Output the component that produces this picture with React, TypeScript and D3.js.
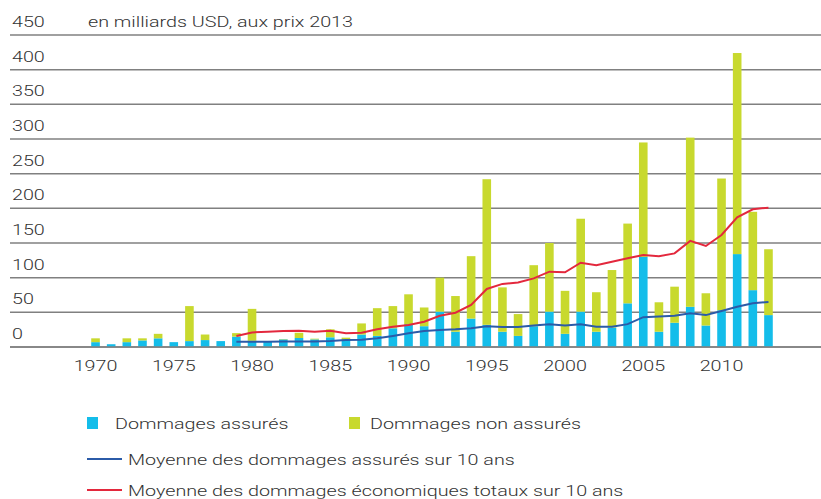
import * as d3 from 'd3';
import React from 'react';

// values, USD bn at 2013 prices
const years = d3.range(1970, 2014);
const insured = [7, 4, 7, 9.5, 12.5, 7, 8.5, 10, 8.5, 15, 9, 7.5, 11, 13, 11, 14, 11, 18, 16, 27, 33, 30, 51, 22, 41, 32, 22, 16, 30, 51, 19, 51, 22, 28, 63, 130, 22, 35, 58, 31, 53, 134, 82, 46];
const uninsured = [5.5, 0, 5.5, 3, 6.5, 0, 50.5, 8, 0, 5, 46, 0, 0.5, 7.5, 1, 11.5, 2.5, 16, 40, 32, 43, 27, 49, 51.5, 90, 210, 64, 31.5, 88, 99, 62, 134, 57, 83, 115, 165, 42.5, 52, 244, 46.5, 190, 290, 113, 95];
const avgYears = d3.range(1979, 2014);
const avgInsured = [7.6, 7.6, 7.7, 7.8, 8, 8, 8.5, 10, 10.5, 12.5, 16, 19.7, 23, 24.5, 25.5, 27, 30, 29, 29, 31, 32.7, 31, 32.7, 29.3, 29.3, 33, 43, 44, 45, 48.5, 46, 52, 58, 63, 65];
const avgTotal = [16, 21, 22, 23, 23.5, 22, 23.5, 19.7, 20.7, 25.5, 29.3, 31.7, 36.5, 45, 49.5, 60.6, 83.7, 91, 93, 99, 108.6, 107.7, 121.6, 118, 123, 128, 132.7, 131, 135, 153, 145.7, 161.5, 187, 198.6, 201];
const yTicks = [0, 50, 100, 150, 200, 250, 300, 350, 400, 450];
const xTicks = [1970, 1975, 1980, 1985, 1990, 1995, 2000, 2005, 2010];

const W = 821, H = 499;
const BLUE = '#14bdea', GREEN = '#c8d92e', LINE_BLUE = '#2b5ba8', LINE_RED = '#e3283d';
const TXT = '#333';
const SX = 1.29; // the source image is stretched horizontally

function T({x, y, anchor = 'start', children}: any) {
  return (
    <text transform={`translate(${x},${y}) scale(${SX},1)`} textAnchor={anchor}
      fontFamily="Roboto, 'Liberation Sans', sans-serif" fontWeight={300} fontSize={15.3} fill={TXT}>
      {children}
    </text>
  );
}

export default function App() {
  const x = d3.scaleBand<number>().domain(years).range([87.7, 776.3]).paddingInner(0.45).paddingOuter(0.225);
  const y = d3.scaleLinear().domain([0, 450]).range([347, 35]);
  const cx = (yr: number) => (x(yr) as number) + x.bandwidth() / 2;

  const line = d3.line<number>().x((_, i) => cx(avgYears[i])).y(d => y(d)).curve(d3.curveLinear);

  return (
    <svg width={W} height={H} style={{position: 'absolute', left: 0, top: 0, background: '#fff'}}>
      {yTicks.map(t => (
        <g key={t}>
          <line x1={10} x2={W} y1={y(t)} y2={y(t)} stroke="#808080" strokeWidth={1.5} />
          <T x={12} y={y(t) - 8}>{t}</T>
        </g>
      ))}
      <T x={88} y={y(450) - 8}>en milliards USD, aux prix 2013</T>

      {years.map((yr, i) => (
        <g key={yr}>
          <rect x={x(yr)} width={x.bandwidth()} y={y(insured[i])} height={y(0) - y(insured[i])} fill={BLUE} />
          {uninsured[i] > 0 && (
            <rect x={x(yr)} width={x.bandwidth()} y={y(insured[i] + uninsured[i])}
              height={y(insured[i]) - y(insured[i] + uninsured[i])} fill={GREEN} />
          )}
        </g>
      ))}
      <line x1={10} x2={W} y1={y(0)} y2={y(0)} stroke="#808080" strokeWidth={1.5} />

      <path d={line(avgInsured) || ''} fill="none" stroke={LINE_BLUE} strokeWidth={2} />
      <path d={line(avgTotal) || ''} fill="none" stroke={LINE_RED} strokeWidth={2} />

      {xTicks.map(t => <T key={t} x={cx(t)} y={371} anchor="middle">{t}</T>)}

      {/* legend */}
      <rect x={87} y={417} width={11} height={12} fill={BLUE} />
      <T x={115} y={429}>Dommages assurés</T>
      <rect x={349} y={417} width={11} height={12} fill={GREEN} />
      <T x={370} y={429}>Dommages non assurés</T>
      <line x1={87} x2={122} y1={459} y2={459} stroke={LINE_BLUE} strokeWidth={2} />
      <T x={128} y={465}>Moyenne des dommages assurés sur 10 ans</T>
      <line x1={87} x2={122} y1={490} y2={490} stroke={LINE_RED} strokeWidth={2} />
      <T x={128} y={496}>Moyenne des dommages économiques totaux sur 10 ans</T>
    </svg>
  );
}
